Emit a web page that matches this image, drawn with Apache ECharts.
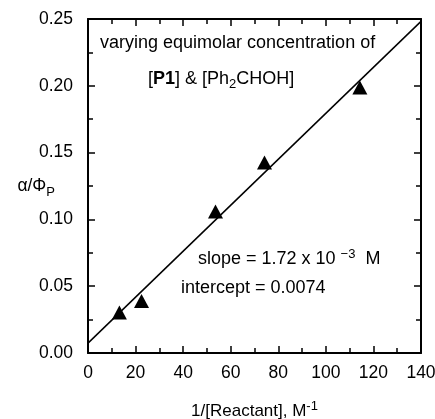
<!DOCTYPE html>
<html>
<head>
<meta charset="utf-8">
<script src="https://cdn.jsdelivr.net/npm/echarts@6/dist/echarts.min.js"></script>
<style>html,body{margin:0;padding:0;background:#fff}#c{width:435px;height:419px}</style>
</head>
<body>
<div id="c"></div>
<script>
const pointX = [13.2, 22.5, 53.6, 74.2, 114.3];
const pointY = [0.0303, 0.0389, 0.1059, 0.1426, 0.1987];
const fitX = [0, 140];
const fitY = [0.0074, 0.2482];
const xTicks = [0, 20, 40, 60, 80, 100, 120, 140];
const yTicks = [0.00, 0.05, 0.10, 0.15, 0.20, 0.25];

const FONT = 'Liberation Sans, Arial, sans-serif';
const chart = echarts.init(document.getElementById('c'), null, {renderer: 'canvas'});
const axisCommon = {
  axisLine: {show: true, onZero: false, lineStyle: {color: '#000', width: 2}},
  axisTick: {show: true, inside: true, length: 7, lineStyle: {color: '#000', width: 1.5}},
  minorTick: {show: true, splitNumber: 2, length: 5, lineStyle: {color: '#000', width: 1.5}},
  splitLine: {show: false}
};
chart.setOption({
  animation: false,
  backgroundColor: '#fff',
  grid: {left: 88, top: 19, right: 14, bottom: 66, containLabel: false, outerBoundsMode: 'none'},
  xAxis: [
    Object.assign({}, axisCommon, {
      type: 'value', min: 0, max: 140, interval: 20, position: 'bottom',
      axisLabel: {color: '#000', fontFamily: FONT, fontSize: 17.5, margin: 11,
        formatter: v => xTicks.includes(v) ? String(v) : ''},
      name: '{a|1/[Reactant], M}{s|-1}',
      nameLocation: 'middle', nameGap: 47, nameMoveOverlap: false,
      nameTextStyle: {rich: {
        a: {fontFamily: FONT, fontSize: 17, color: '#000'},
        s: {fontFamily: FONT, fontSize: 13, color: '#000', verticalAlign: 'top', padding: [0, 0, 9, 0]}
      }}
    }),
    Object.assign({}, axisCommon, {
      type: 'value', min: 0, max: 140, interval: 20, position: 'top',
      axisLabel: {show: false}
    })
  ],
  yAxis: [
    Object.assign({}, axisCommon, {
      type: 'value', min: 0, max: 0.25, interval: 0.05, position: 'left',
      axisLabel: {color: '#000', fontFamily: FONT, fontSize: 17.5, margin: 15,
        formatter: v => v.toFixed(2)},
      name: '{a|α/Φ}{s|P}',
      nameLocation: 'middle', nameRotate: 0, nameGap: 33, nameMoveOverlap: false,
      nameTextStyle: {rich: {
        a: {fontFamily: FONT, fontSize: 17.5, color: '#000'},
        s: {fontFamily: FONT, fontSize: 13, color: '#000', padding: [12, 0, 0, 0]}
      }}
    }),
    Object.assign({}, axisCommon, {
      type: 'value', min: 0, max: 0.25, interval: 0.05, position: 'right',
      axisLabel: {show: false}
    })
  ],
  series: [
    {
      type: 'line', data: fitX.map((x, i) => [x, fitY[i]]),
      symbol: 'none', lineStyle: {color: '#000', width: 1.5}, z: 2
    },
    {
      type: 'scatter', data: pointX.map((x, i) => [x, pointY[i]]),
      symbol: 'triangle', symbolSize: [15, 14],
      itemStyle: {color: '#000', opacity: 1}, z: 3
    }
  ],
  graphic: [
    {type: 'text', left: 100, top: 34, style: {text: 'varying equimolar concentration of',
      font: '18px ' + FONT, fill: '#000'}},
    {type: 'text', left: 148, top: 70, style: {
      text: '{a|[}{b|P1}{a|] & [Ph}{s|2}{a|CHOH]}',
      rich: {
        a: {fontFamily: FONT, fontSize: 18, color: '#000'},
        b: {fontFamily: FONT, fontSize: 18, fontWeight: 'bold', color: '#000'},
        s: {fontFamily: FONT, fontSize: 13, color: '#000', padding: [10, 0, 0, 0]}
      }}},
    {type: 'text', left: 198, top: 248, style: {
      text: '{a|slope = 1.72 x 10 }{s|−3}{a|  M}',
      rich: {
        a: {fontFamily: FONT, fontSize: 18, color: '#000'},
        s: {fontFamily: FONT, fontSize: 13, color: '#000', padding: [0, 0, 10, 0]}
      }}},
    {type: 'text', left: 181, top: 279, style: {text: 'intercept = 0.0074',
      font: '18px ' + FONT, fill: '#000'}}
  ]
});
</script>
</body>
</html>
